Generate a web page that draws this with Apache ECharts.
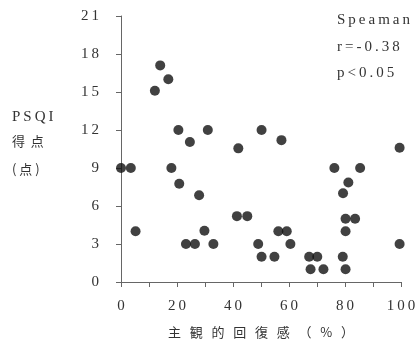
<!DOCTYPE html>
<html>
<head>
<meta charset="utf-8">
<script src="https://cdn.jsdelivr.net/npm/echarts@6/dist/echarts.min.js"></script>
<style>html,body{margin:0;padding:0;background:#fff}#c{width:415px;height:340px}</style>
</head>
<body>
<div id="c"></div>
<script>
const recovery = [0, 3.5, 5.2, 12.1, 14.0, 16.9, 18.0, 20.5, 20.8, 23.2, 24.6, 26.4, 27.9, 29.8, 31.0, 33.0,
  41.4, 41.9, 45.1, 49.0, 50.2, 50.2, 54.8, 56.2, 57.3, 59.2, 60.5, 67.2, 67.7, 70.1, 72.3,
  76.2, 79.2, 79.3, 80.2, 80.2, 80.2, 81.2, 83.6, 85.4, 99.5, 99.5];
const psqi = [9, 9, 4, 15.1, 17.1, 16.0, 9, 12, 7.75, 3, 11.05, 3, 6.85, 4.05, 12, 3,
  5.2, 10.55, 5.2, 3, 12, 2, 2, 4, 11.2, 4, 3, 2, 1, 2, 1,
  9, 2, 7, 1, 4, 5, 7.85, 5, 9, 10.6, 3];
const xTicks = [0, 20, 40, 60, 80, 100];
const yTicks = [0, 3, 6, 9, 12, 15, 18, 21];
const xName = '主観的回復感（%）';
const yName = ['PSQI', '得点', '(点)'];
const stats = ['Speaman', 'r=-0.38', 'p<0.05'];

const sp = s => s.split('').join('\u2009');
const points = recovery.map((x, i) => [x, psqi[i]]);
const serif = '"Liberation Serif", "DejaVu Serif", serif';
const cjk = '"Noto Sans CJK JP"';

const chart = echarts.init(document.getElementById('c'));
chart.setOption({
  animation: false,
  grid: { left: 121, right: 14, top: 16, bottom: 58, containLabel: false, outerBoundsMode: 'none' },
  xAxis: {
    type: 'value', min: 0, max: 100, interval: 10,
    name: xName.split('').join('   '),
    nameLocation: 'middle', nameGap: 44,
    nameTextStyle: { fontFamily: cjk, fontSize: 13, color: '#333' },
    axisLine: { show: true, lineStyle: { color: '#666', width: 1 } },
    axisTick: { show: true, length: 5, lineStyle: { color: '#666' } },
    splitLine: { show: false },
    axisLabel: {
      margin: 17, color: '#333', fontFamily: serif, fontSize: 15,
      formatter: v => xTicks.includes(v) ? sp(String(v)) : ''
    }
  },
  yAxis: {
    type: 'value', min: 0, max: 21, interval: 3,
    axisLine: { show: true, lineStyle: { color: '#666', width: 1 } },
    axisTick: { show: true, length: 5, lineStyle: { color: '#666' } },
    splitLine: { show: false },
    axisLabel: {
      margin: 22, color: '#333', fontFamily: serif, fontSize: 15,
      formatter: v => yTicks.includes(v) ? sp(String(v)) : ''
    }
  },
  graphic: [
    { type: 'text', left: 12, top: 110, style: { text: sp(yName[0]), fontFamily: serif, fontSize: 15, fill: '#333' } },
    { type: 'text', left: 12, top: 135, style: { text: yName[1].split('').join('  '), fontFamily: cjk, fontSize: 13, fill: '#333' } },
    { type: 'text', left: 12, top: 163, style: { text: yName[2].split('').join(' '), fontFamily: cjk, fontSize: 13, fill: '#333' } },
    { type: 'text', left: 337, top: 13, style: { text: sp(stats[0]), fontFamily: serif, fontSize: 15, fill: '#333' } },
    { type: 'text', left: 337, top: 40, style: { text: sp(stats[1]), fontFamily: serif, fontSize: 15, fill: '#333' } },
    { type: 'text', left: 337, top: 66, style: { text: sp(stats[2]), fontFamily: serif, fontSize: 15, fill: '#333' } }
  ],
  series: [{
    type: 'scatter', data: points, symbol: 'circle', symbolSize: 10,
    itemStyle: { color: '#111' }
  }]
});
</script>
</body>
</html>
